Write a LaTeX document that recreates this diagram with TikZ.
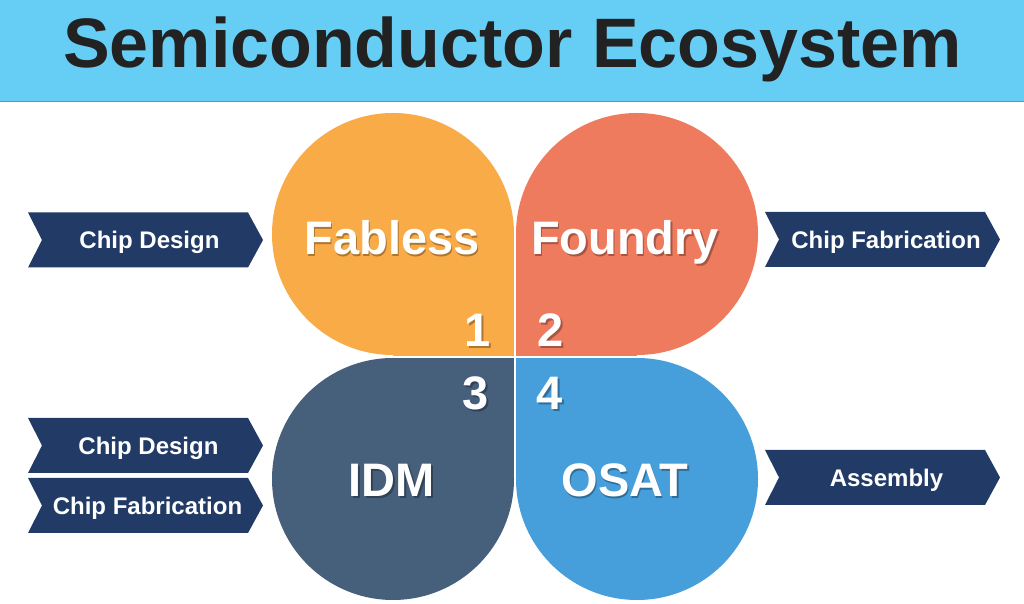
\documentclass[tikz,border=0pt]{standalone}
\usepackage{fontspec}
\setmainfont{Liberation Sans}
\definecolor{titleblue}{HTML}{66CEF5}
\definecolor{titleline}{HTML}{5B97B3}
\definecolor{titleink}{HTML}{222222}
\definecolor{fabc}{HTML}{F9AB47}
\definecolor{fouc}{HTML}{EF7B5F}
\definecolor{idmc}{HTML}{465F7B}
\definecolor{osac}{HTML}{469EDB}
\definecolor{navy}{HTML}{213A66}
\tikzset{
  petaltext/.style={text=white, font=\fontsize{47}{50}\selectfont\bfseries, inner sep=0pt, anchor=base},
  petalshadow/.style={text=black, opacity=0.3, font=\fontsize{47}{50}\selectfont\bfseries, inner sep=0pt, anchor=base},
  bannertext/.style={text=white, font=\fontsize{24}{26}\selectfont\bfseries, inner sep=0pt, anchor=base},
  bannerfill/.style={fill=navy}
}
\newcommand\bannerpath[2]{%
  \fill[bannerfill] (#1,#2+27.5) -- (#1+220,#2+27.5) -- (#1+235,#2) -- (#1+220,#2-27.5) -- (#1,#2-27.5) -- (#1+14,#2) -- cycle;}
\begin{document}
\begin{tikzpicture}[x=1pt,y=1pt]
\fill[white] (0,0) rectangle (1024,604);
\useasboundingbox (0,0) rectangle (1024,604);
% title bar
\fill[titleblue] (0,502) rectangle (1024,604);
\draw[titleline, line width=1.5pt] (0,502.5) -- (1024,502.5);
\node[text=titleink, font=\fontsize{70}{80}\selectfont\bfseries, inner sep=0pt, anchor=base] (title) at (512.5,536) {Semiconductor Ecosystem};
% petals
\fill[fabc] (393,370) circle[radius=121];
\fill[fabc] (393,248) rectangle (514,370);
\fill[fouc] (637,370) circle[radius=121];
\fill[fouc] (516,248) rectangle (637,370);
\fill[idmc] (393,125) circle[radius=121];
\fill[idmc] (393,125) rectangle (514,246);
\fill[osac] (637,125) circle[radius=121];
\fill[osac] (516,125) rectangle (637,246);
% petal labels
\node[petalshadow] (fabS) at (393.5,347.5) {Fabless};
\node[petaltext] (fab) at (392,349) {Fabless};
\node[petalshadow] (fouS) at (626.5,347.5) {Foundry};
\node[petaltext] (fou) at (625,349) {Foundry};
\node[petalshadow] (idmS) at (393.5,105.5) {IDM};
\node[petaltext] (idm) at (392,107) {IDM};
\node[petalshadow] (osaS) at (626.5,105.5) {OSAT};
\node[petaltext] (osa) at (625,107) {OSAT};
% numbers
\node[petalshadow] (n1S) at (479.5,255.5) {1};
\node[petaltext] (n1) at (478,257) {1};
\node[petalshadow] (n2S) at (552.5,255.5) {2};
\node[petaltext] (n2) at (551,257) {2};
\node[petalshadow] (n3S) at (477.5,192.5) {3};
\node[petaltext] (n3) at (476,194) {3};
\node[petalshadow] (n4S) at (551.5,192.5) {4};
\node[petaltext] (n4) at (550,194) {4};
% banners
\bannerpath{28}{364}
\node[bannertext] (b1) at (149.5,355.4) {Chip Design};
\bannerpath{765}{364.5}
\node[bannertext] (b2) at (886,355.9) {Chip Fabrication};
\bannerpath{28}{158.5}
\node[bannertext] (b3) at (148.5,149.9) {Chip Design};
\bannerpath{28}{98.5}
\node[bannertext] (b4) at (147.5,89.9) {Chip Fabrication};
\bannerpath{765}{126.5}
\node[bannertext] (b5) at (886.5,117.9) {Assembly};
\end{tikzpicture}
\end{document}
